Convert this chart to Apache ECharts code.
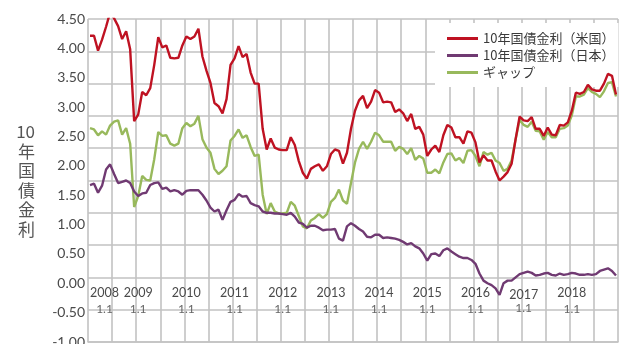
<!DOCTYPE html>
<html>
<head>
<meta charset="utf-8">
<script src="https://cdn.jsdelivr.net/npm/echarts@6/dist/echarts.min.js"></script>
<style>
html,body{margin:0;padding:0;background:#fff;}
#chart{width:624px;height:344px;}
</style>
</head>
<body>
<div id="chart"></div>
<script>
// Years covered (monthly data, Jan 2008 - Dec 2018)
const years = [2008,2009,2010,2011,2012,2013,2014,2015,2016,2017,2018];
const monthsPerYear = 12;

// 10年国債金利（米国）
const usYield = [
  3.74,3.74,3.51,3.68,3.88,4.10,4.01,3.89,3.69,3.81,3.53,2.42,
  2.52,2.87,2.82,2.93,3.29,3.72,3.56,3.59,3.40,3.39,3.40,3.59,
  3.73,3.69,3.73,3.85,3.42,3.20,3.01,2.70,2.65,2.54,2.76,3.29,
  3.39,3.58,3.41,3.46,3.17,3.00,3.00,2.30,1.98,2.15,2.01,1.98,
  1.97,1.97,2.17,2.05,1.80,1.62,1.53,1.68,1.72,1.75,1.65,1.72,
  1.91,1.98,1.96,1.76,1.93,2.30,2.58,2.74,2.81,2.62,2.72,2.90,
  2.86,2.71,2.72,2.71,2.56,2.60,2.54,2.42,2.53,2.30,2.33,2.21,
  1.88,1.98,2.04,1.94,2.20,2.36,2.32,2.17,2.17,2.07,2.26,2.24,
  2.09,1.78,1.89,1.81,1.81,1.64,1.50,1.56,1.63,1.76,2.14,2.49,
  2.43,2.42,2.48,2.30,2.30,2.19,2.32,2.21,2.20,2.36,2.35,2.40,
  2.58,2.86,2.84,2.87,2.98,2.91,2.89,2.89,3.00,3.15,3.12,2.83
];

// 10年国債金利（日本）
const jpYield = [
  1.43,1.45,1.31,1.42,1.67,1.75,1.60,1.46,1.48,1.50,1.46,1.33,
  1.26,1.30,1.31,1.43,1.46,1.47,1.37,1.39,1.33,1.35,1.33,1.28,
  1.34,1.35,1.35,1.35,1.28,1.19,1.08,1.02,1.05,0.89,1.04,1.17,
  1.20,1.29,1.25,1.26,1.15,1.12,1.10,1.02,1.00,1.00,0.99,0.99,
  0.98,0.97,1.00,0.94,0.85,0.83,0.77,0.80,0.80,0.77,0.73,0.74,
  0.74,0.75,0.60,0.57,0.79,0.84,0.80,0.75,0.71,0.63,0.62,0.66,
  0.66,0.61,0.62,0.61,0.60,0.58,0.55,0.51,0.53,0.48,0.45,0.37,
  0.26,0.36,0.37,0.33,0.42,0.45,0.40,0.36,0.32,0.30,0.30,0.27,
  0.21,0.06,-0.05,-0.09,-0.12,-0.17,-0.27,-0.09,-0.05,-0.05,0.00,0.05,
  0.07,0.09,0.07,0.03,0.04,0.06,0.07,0.04,0.03,0.06,0.04,0.05,
  0.07,0.06,0.04,0.04,0.05,0.04,0.05,0.10,0.12,0.14,0.10,0.03
];

// ギャップ
const gapYield = [
  2.31,2.29,2.20,2.26,2.21,2.35,2.41,2.43,2.21,2.31,2.07,1.09,
  1.26,1.57,1.51,1.50,1.83,2.25,2.19,2.20,2.07,2.04,2.07,2.31,
  2.39,2.34,2.38,2.50,2.14,2.01,1.93,1.68,1.60,1.65,1.72,2.12,
  2.19,2.29,2.16,2.20,2.02,1.88,1.90,1.28,0.98,1.15,1.02,0.99,
  0.99,1.00,1.17,1.11,0.95,0.79,0.76,0.88,0.92,0.98,0.92,0.98,
  1.17,1.23,1.36,1.19,1.14,1.46,1.78,1.99,2.10,1.99,2.10,2.24,
  2.20,2.10,2.10,2.10,1.96,2.02,1.99,1.91,2.00,1.82,1.88,1.84,
  1.62,1.62,1.67,1.61,1.78,1.91,1.92,1.81,1.85,1.77,1.96,1.97,
  1.88,1.72,1.94,1.90,1.93,1.81,1.77,1.65,1.68,1.81,2.14,2.44,
  2.36,2.33,2.41,2.27,2.26,2.13,2.25,2.17,2.17,2.30,2.31,2.35,
  2.51,2.80,2.80,2.83,2.93,2.87,2.84,2.79,2.88,3.01,3.02,2.80
];

// Series names / axis texts
const seriesNames = ['10年国債金利（米国）','10年国債金利（日本）','ギャップ'];
const yAxisTitle = '10\n年\n国\n債\n金\n利';
const xTickSubLabel = '1.1';
// printed tick labels on the left (4.50 ... -1.00)
const yLabelMin = -1.0, yLabelMax = 4.5, yLabelStep = 0.5;
// grid lines of the plotted scale
const yGridMin = -1.0, yGridMax = 4.0, yGridStep = 0.5;

const months = [];
years.forEach(y => { for (let m = 1; m <= monthsPerYear; m++) months.push(y + '-' + (m < 10 ? '0' + m : m)); });

const gridColor = '#c2c2c2';
const textGray = '#4a4a4a';
const numFont = 'Lato, "Noto Sans", sans-serif';
const jpFont = '"Noto Sans CJK JP", sans-serif';

const chart = echarts.init(document.getElementById('chart'));
chart.setOption({
  animation: false,
  grid: {left: 88, right: 6, top: 19, bottom: 2, outerBoundsMode: 'none', z: 0},
  legend: {
    z: 3.5,
    orient: 'vertical',
    left: 435, top: 23,
    padding: [7, 4, 6, 12],
    backgroundColor: '#ffffff',
    itemGap: 0,
    itemWidth: 31, itemHeight: 3,
    icon: 'rect',
    textStyle: {fontFamily: jpFont, fontSize: 13, color: '#3a3a3a', lineHeight: 17},
    data: seriesNames
  },
  xAxis: {
    z: 3,
    type: 'category',
    data: months,
    boundaryGap: true,
    axisLine: {show: true, onZero: false, lineStyle: {color: gridColor, width: 1.6}},
    axisTick: {show: false},
    axisLabel: {
      interval: function (i) { return i % 12 === 0; },
      margin: -57,
      alignMinLabel: 'left',
      formatter: function (v) {
        const y = v.slice(0, 4);
        if (y === '2017') return '{d|' + y + '}\n{e|' + xTickSubLabel + '}';
        return '{a|' + y + '}\n{b|' + xTickSubLabel + '}';
      },
      rich: {
        a: {align: 'center', fontFamily: numFont, fontSize: 12.5, lineHeight: 16, color: textGray},
        b: {align: 'center', fontFamily: numFont, fontSize: 12, lineHeight: 16, color: '#666'},
        d: {align: 'center', fontFamily: numFont, fontSize: 12.5, lineHeight: 16, color: textGray, padding: [3, 0, 0, 0]},
        e: {align: 'center', fontFamily: numFont, fontSize: 12, lineHeight: 14, color: '#666'}
      }
    },
    splitLine: {show: true, interval: function (i) { return i % 6 === 0; }, lineStyle: {color: gridColor, width: 1.6}}
  },
  yAxis: [
    {
      z: 3,
      type: 'value',
      min: yGridMin, max: yGridMax, interval: yGridStep,
      axisLabel: {show: false},
      axisLine: {show: false},
      axisTick: {show: false},
      splitLine: {show: true, lineStyle: {color: gridColor, width: 1.6}},
      name: yAxisTitle,
      nameLocation: 'middle',
      nameRotate: 0,
      nameGap: 53,
      nameTextStyle: {fontFamily: jpFont, fontSize: 17, lineHeight: 19.5, color: '#555'}
    },
    {
      z: 0,
      type: 'value',
      position: 'left',
      min: yLabelMin, max: yLabelMax, interval: yLabelStep,
      axisLabel: {margin: 3, fontFamily: numFont, fontSize: 14, color: textGray, formatter: function (v) { return v.toFixed(2); }},
      axisLine: {show: false},
      axisTick: {show: false},
      splitLine: {show: false},
      splitArea: {show: false}
    }
  ],
  series: [
    {name: seriesNames[0], type: 'line', data: usYield, yAxisIndex: 0, symbol: 'none', z: 6,
     lineStyle: {color: '#bf1222', width: 2.4}, itemStyle: {color: '#bf1222'}},
    {name: seriesNames[1], type: 'line', data: jpYield, yAxisIndex: 0, symbol: 'none', z: 5,
     lineStyle: {color: '#703a72', width: 2.4}, itemStyle: {color: '#703a72'}},
    {name: seriesNames[2], type: 'line', data: gapYield, yAxisIndex: 0, symbol: 'none', z: 4,
     lineStyle: {color: '#98b95c', width: 2.4}, itemStyle: {color: '#98b95c'}}
  ]
});
</script>
</body>
</html>
